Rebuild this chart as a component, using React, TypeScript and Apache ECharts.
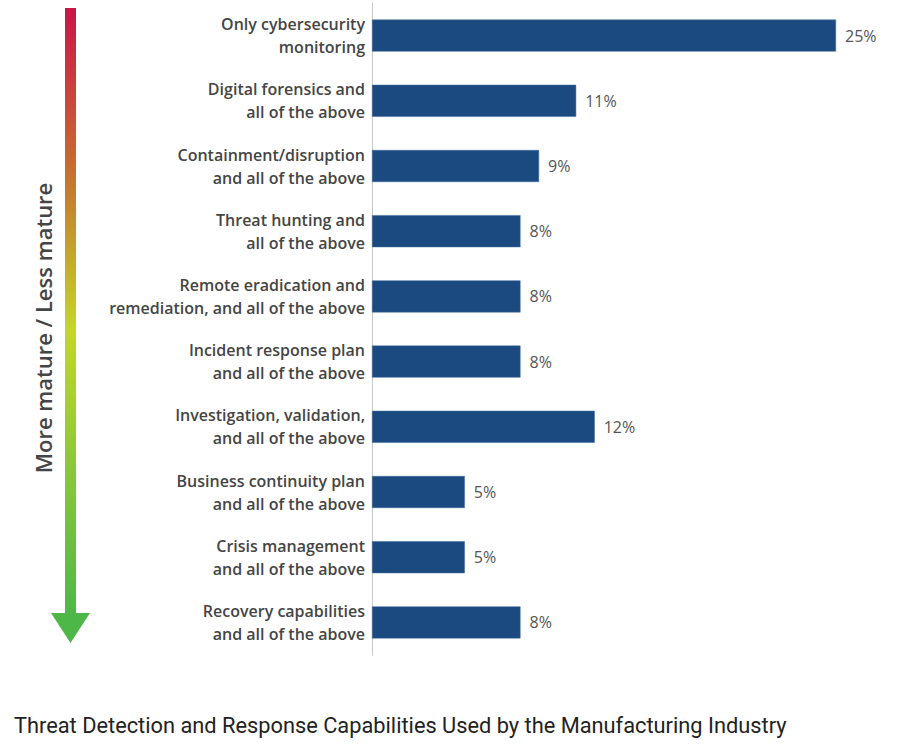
import React, { useRef, useEffect } from 'react'
import * as echarts from 'echarts'

const CATEGORIES = [
  'Only cybersecurity\nmonitoring',
  'Digital forensics and\nall of the above',
  'Containment/disruption\nand all of the above',
  'Threat hunting and\nall of the above',
  'Remote eradication and\nremediation, and all of the above',
  'Incident response plan\nand all of the above',
  'Investigation, validation,\nand all of the above',
  'Business continuity plan\nand all of the above',
  'Crisis management\nand all of the above',
  'Recovery capabilities\nand all of the above',
]

const VALUES = [25, 11, 9, 8, 8, 8, 12, 5, 5, 8]

const TITLE = 'Threat Detection and Response Capabilities Used by the Manufacturing Industry'
const SIDE_LABEL = 'More mature / Less mature'

const App: React.FC = () => {
  const chartRef = useRef<HTMLDivElement>(null)

  useEffect(() => {
    if (!chartRef.current) return
    const chart = echarts.init(chartRef.current, null, { renderer: 'svg' })

    chart.setOption({
      animation: false,
      backgroundColor: '#ffffff',
      grid: { left: 372, right: 64, top: 3, bottom: 93, containLabel: false },
      xAxis: {
        type: 'value',
        min: 0,
        max: 25,
        show: false,
      },
      yAxis: {
        type: 'category',
        data: CATEGORIES,
        inverse: true,
        axisLine: { show: true, lineStyle: { color: '#c8c8c8', width: 1 } },
        axisTick: { show: false },
        axisLabel: {
          margin: 7,
          color: '#454545',
          fontFamily: 'Open Sans',
          fontWeight: 600,
          fontSize: 16,
          lineHeight: 23,
          align: 'right',
          padding: [0, 0, 3, 0],
        },
      },
      series: [
        {
          type: 'bar',
          data: VALUES,
          barWidth: 32,
          itemStyle: { color: '#1a4a7f', borderColor: '#3d6a9c', borderWidth: 0.5 },
          label: {
            show: true,
            position: 'right',
            distance: 9,
            formatter: '{c}%',
            color: '#555555',
            fontFamily: 'Open Sans',
            fontSize: 16,
            padding: [0, 0, 2, 0],
          },
        },
      ],
      graphic: [
        {
          type: 'rect',
          shape: { x: 65, y: 8, width: 11, height: 607 },
          style: {
            fill: new echarts.graphic.LinearGradient(0, 0, 0, 1, [
              { offset: 0, color: '#cc1449' },
              { offset: 0.27, color: '#c6702f' },
              { offset: 0.53, color: '#c4d62a' },
              { offset: 1, color: '#4db848' },
            ]),
          },
        },
        {
          type: 'polygon',
          shape: { points: [[51, 613], [90, 613], [70.5, 643]] },
          style: { fill: '#4db848' },
        },
        {
          type: 'text',
          x: 43,
          y: 328,
          rotation: Math.PI / 2,
          style: {
            text: SIDE_LABEL,
            fill: '#454545',
            font: '600 22px "Open Sans"',
            align: 'center',
            verticalAlign: 'middle',
          },
        },
        {
          type: 'text',
          left: 14,
          top: 714,
          style: {
            text: TITLE,
            fill: '#222222',
            font: '21.8px Roboto',
          },
        },
      ],
    })

    return () => {
      chart.dispose()
    }
  }, [])

  return <div ref={chartRef} style={{ width: 900, height: 748, position: 'absolute', left: 0, top: 0 }} />
}

export default App
